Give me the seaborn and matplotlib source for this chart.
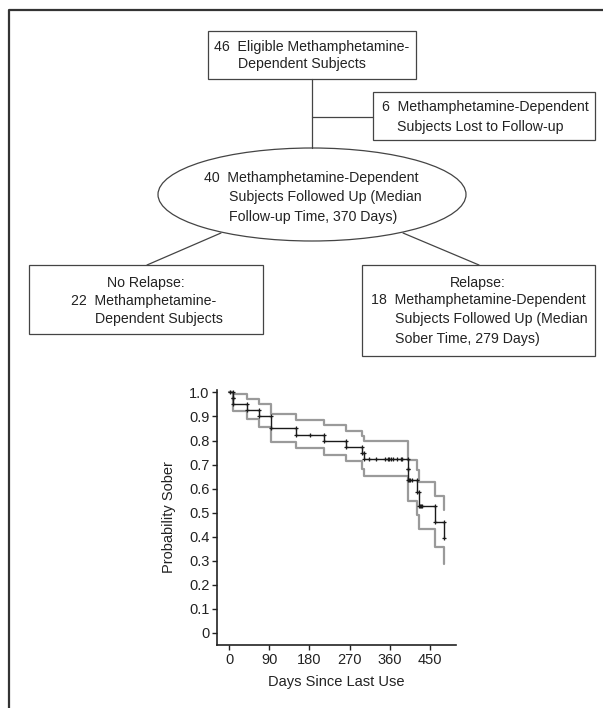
import numpy as np
import matplotlib
matplotlib.use("Agg")
import matplotlib.pyplot as plt
import seaborn as sns
from matplotlib import font_manager
from matplotlib.patches import Rectangle, Ellipse

# ---------------- data ----------------
event_days = [0, 8, 8, 41, 67, 94, 150, 212, 261, 298, 302, 400, 401, 421, 425, 460, 482]
survival = [1.0, 0.975, 0.95, 0.925, 0.90, 0.85, 0.822, 0.80, 0.775, 0.748, 0.722,
            0.68, 0.634, 0.584, 0.527, 0.46, 0.395]
band_days = [0, 8, 41, 67, 94, 150, 212, 261, 298, 302, 400, 401, 421, 425, 460, 482]
upper_ci = [1.0, 0.993, 0.974, 0.95, 0.911, 0.885, 0.865, 0.84, 0.82, 0.797,
            0.757, 0.72, 0.676, 0.628, 0.568, 0.51]
lower_ci = [1.0, 0.921, 0.89, 0.858, 0.794, 0.768, 0.74, 0.715, 0.683, 0.654,
            0.60, 0.549, 0.492, 0.432, 0.358, 0.285]
censor_days = [2, 181, 314, 329, 348, 355, 359, 362, 366, 377, 385, 388,
               403, 406, 410, 427, 430, 433]
x_ticks = [0, 90, 180, 270, 360, 450]
y_ticks = [0, 0.1, 0.2, 0.3, 0.4, 0.5, 0.6, 0.7, 0.8, 0.9, 1.0]
y_tick_labels = ["0", "0.1", "0.2", "0.3", "0.4", "0.5", "0.6", "0.7", "0.8", "0.9", "1.0"]
x_label = "Days Since Last Use"
y_label = "Probability Sober"

# ---------------- style ----------------
sns.set_style("ticks")
available = {f.name for f in font_manager.fontManager.ttflist}
family = "Liberation Sans Narrow" if "Liberation Sans Narrow" in available else "Liberation Sans"
plt.rcParams["font.family"] = [family, "DejaVu Sans"]
FS = 10.2      # flowchart text
FS_AX = 10.5   # axis text
INK = "#222222"

W, H = 603, 708
fig = plt.figure(figsize=(W / 100, H / 100), dpi=100)

# ---------------- flowchart (pixel coordinate overlay) ----------------
fc = fig.add_axes([0, 0, 1, 1])
fc.set_xlim(0, W)
fc.set_ylim(H, 0)
fc.axis("off")
fc.patch.set_visible(False)

# page frame (top + left)
fc.plot([9, 9, W], [H, 10, 10], color="#333333", lw=1.6, solid_capstyle="butt")

box_kw = dict(fill=False, edgecolor="#444444", lw=0.9)
txt_kw = dict(fontsize=FS, color=INK, va="center")

# top box
fc.add_patch(Rectangle((208, 31), 208, 48, **box_kw))
fc.text(214, 47, "46  Eligible Methamphetamine-", ha="left", **txt_kw)
fc.text(238.5, 64, "Dependent Subjects", ha="left", **txt_kw)

# connectors
fc.plot([312, 312], [79, 148], color="#444444", lw=0.9)
fc.plot([312, 373], [116.5, 116.5], color="#444444", lw=0.9)

# lost to follow-up
fc.add_patch(Rectangle((373, 92), 222, 48, **box_kw))
fc.text(382, 107, "6  Methamphetamine-Dependent", ha="left", **txt_kw)
fc.text(397, 127, "Subjects Lost to Follow-up", ha="left", **txt_kw)

# ellipse
fc.add_patch(Ellipse((312, 194.5), 308, 93, **box_kw))
fc.text(204, 178, "40  Methamphetamine-Dependent", ha="left", **txt_kw)
fc.text(229, 197, "Subjects Followed Up (Median", ha="left", **txt_kw)
fc.text(229, 217, "Follow-up Time, 370 Days)", ha="left", **txt_kw)

# branches
fc.plot([221, 147], [233, 265], color="#444444", lw=0.9)
fc.plot([403, 479], [233, 265], color="#444444", lw=0.9)

# no relapse box
fc.add_patch(Rectangle((29, 265), 234, 69, **box_kw))
fc.text(146, 283, "No Relapse:", ha="center", **txt_kw)
fc.text(71, 301, "22  Methamphetamine-", ha="left", **txt_kw)
fc.text(95, 319, "Dependent Subjects", ha="left", **txt_kw)

# relapse box
fc.add_patch(Rectangle((361.5, 265), 233, 91, **box_kw))
fc.text(478, 283, "Relapse:", ha="center", **txt_kw)
fc.text(371, 300, "18  Methamphetamine-Dependent", ha="left", **txt_kw)
fc.text(395, 319, "Subjects Followed Up (Median", ha="left", **txt_kw)
fc.text(395, 339, "Sober Time, 279 Days)", ha="left", **txt_kw)

# ---------------- Kaplan-Meier plot ----------------
ax = fig.add_axes([217 / W, 1 - 645 / H, (456 - 217) / W, (645 - 390) / H])

sns.lineplot(x=band_days, y=upper_ci, drawstyle="steps-post", estimator=None,
             sort=False, color="#9a9a9a", lw=1.6, ax=ax)
sns.lineplot(x=band_days, y=lower_ci, drawstyle="steps-post", estimator=None,
             sort=False, color="#9a9a9a", lw=1.6, ax=ax)
sns.lineplot(x=event_days, y=survival, drawstyle="steps-post", estimator=None,
             sort=False, color="#1a1a1a", lw=1.0, ax=ax)

# markers at step corners and censored times
ed = np.array(event_days)
sv = np.array(survival)
corner_x = np.concatenate([ed[1:], ed[1:]])
corner_y = np.concatenate([sv[:-1], sv[1:]])
idx = np.searchsorted(ed, censor_days, side="right") - 1
cens_y = sv[idx]
sns.scatterplot(x=np.concatenate([corner_x, censor_days]),
                y=np.concatenate([corner_y, cens_y]),
                marker="+", s=10, color="#1a1a1a", linewidth=0.9, ax=ax, zorder=3)

ax.set_xlim(-27, 508)
ax.set_ylim(-0.05, 1.01)
ax.set_xticks(x_ticks)
ax.set_xticklabels([str(t) for t in x_ticks])
ax.set_yticks(y_ticks)
ax.set_yticklabels(y_tick_labels)
ax.tick_params(axis="both", length=3.5, width=1.0, color=INK, labelsize=FS_AX,
               labelcolor=INK, pad=2)
for side in ("left", "bottom"):
    ax.spines[side].set_linewidth(1.2)
    ax.spines[side].set_color(INK)
sns.despine(ax=ax)
ax.set_xlabel(x_label, fontsize=FS_AX, color=INK, labelpad=6)
ax.set_ylabel(y_label, fontsize=FS_AX, color=INK, labelpad=9)

fig.savefig("out.png", dpi=100)
